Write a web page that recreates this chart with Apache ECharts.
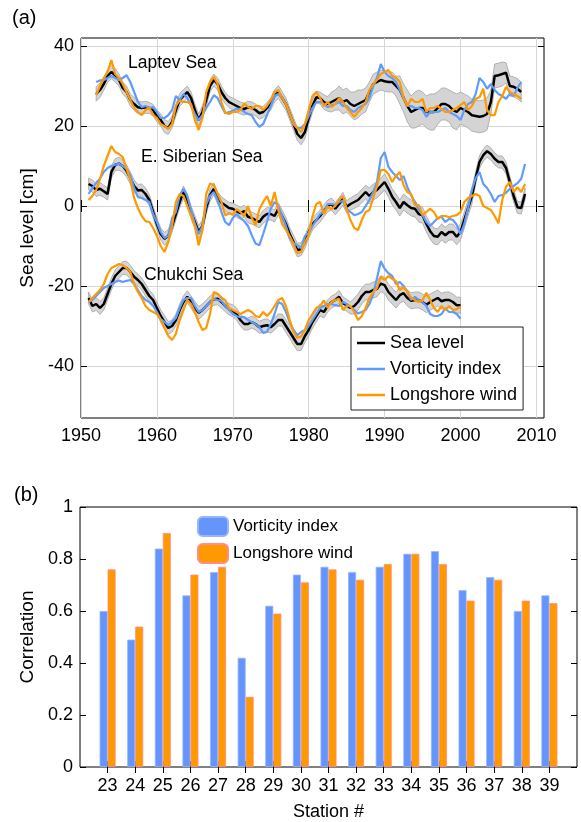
<!DOCTYPE html>
<html>
<head>
<meta charset="utf-8">
<title>Arctic sea level</title>
<script src="https://cdn.jsdelivr.net/npm/echarts@6/dist/echarts.min.js"></script>
<style>
  html, body { margin: 0; padding: 0; background: #fff; }
  #chart { width: 581px; height: 822px; }
</style>
</head>
<body>
<div id="chart"></div>
<script>
// half-year samples
var laptevStart = 1952.0
var laptevSea = [
  28, 29, 30.5, 32.5, 33.5, 32.7, 31.5, 29.5, 28.5, 26.5,      // 1952-1956
  25.5, 24.7, 24.5, 24.7, 24.5, 24, 22.5, 21.5, 20, 19.5,      // 1957-1961
  21, 24, 26.5, 27.5, 28.5, 27, 24, 21.5, 23.5, 26.5,          // 1962-1966
  30, 31.5, 30.5, 28.5, 27, 26, 25.5, 25, 24.5, 24.2,          // 1967-1971
  24.7, 24.5, 24, 23.2, 23.5, 24.5, 25.5, 27.5, 28.5, 27,      // 1972-1976
  25.5, 23, 20.5, 18, 17, 18.5, 22, 25, 27.2, 27,              // 1977-1981
  26, 25.5, 26, 26.5, 27, 26, 26.5, 25.5, 25, 25.5,            // 1982-1986
  26, 26.5, 28.5, 30.5, 31, 31.5, 31.2, 31, 31, 30,            // 1987-1991
  29, 27, 25, 23.5, 24, 24.5, 24.5, 23.5, 23.5, 23.5,          // 1992-1996
  24.5, 25.5, 25.5, 25, 24, 23.5, 24.5, 24, 23.5, 22.7,        // 1997-2001
  22.5, 22.3, 22.5, 23, 26, 32.5, 32.7, 33, 33.3, 30,          // 2002-2006
  29.8, 29.3, 28.5                                             // 2007-2008
]
var laptevVort = [
  31, 31.4, 31.5, 32, 32.5, 32, 31.5, 32, 32.7, 31,
  28.5, 26, 24.7, 25, 24.5, 24.7, 23.5, 22, 22, 22.7,
  24, 27.5, 26.5, 28, 27, 25, 23, 21.5, 22.7, 24.5,
  26, 27.7, 27, 25, 23.2, 23.5, 23.8, 24.3, 24.3, 23.5,
  23, 22.7, 21, 19.8, 20.5, 22.7, 25, 27.5, 28, 27,
  25.5, 23, 20.5, 19.5, 19.5, 20.5, 22.5, 24.5, 26, 26,
  25.5, 24.7, 25.2, 25.5, 26, 25, 25, 24, 23.5, 24.5,
  25, 25.5, 27, 30, 32, 35.5, 33.5, 32.5, 32, 31,
  29, 27, 25, 25, 24.5, 24.5, 24, 22.3, 23.5, 23.5,
  23.5, 24, 24.5, 23.5, 23, 22.5, 21.5, 24, 25.5, 26,
  28, 32, 31, 29.3, 30.5, 29, 28, 27.5, 26.8, 28,
  27.5, 29.5, 31
]
var laptevWind = [
  27.7, 30, 32, 33.5, 36.5, 33, 32, 30.5, 28.5, 26.5,
  24.5, 23.5, 22.7, 24, 24.5, 22.7, 22, 20.5, 20, 19.3,
  20.5, 25, 26.4, 26, 26, 25.5, 21.5, 19, 22, 28.5,
  31, 32.3, 30.5, 26, 23.3, 23, 23.5, 23.5, 24, 25.6,
  24.8, 24.3, 25, 25, 24, 25, 26.5, 28.5, 29, 27,
  25.5, 23, 20.5, 19.5, 18.5, 20.5, 24, 27.5, 28.5, 27,
  25, 26, 24.7, 25.5, 27, 26, 24.5, 23.5, 22.3, 23.5,
  24.5, 26, 29, 30.5, 31.5, 33, 33.5, 34, 32.5, 32,
  31, 27, 25, 26.8, 26, 26, 26.8, 23.5, 24.5, 24.5,
  25, 24.3, 23.5, 23.5, 24, 24.5, 25.2, 26, 24, 25,
  26.8, 27.2, 29.3, 24, 22.7, 22.7, 26, 27.5, 29.8, 28.5,
  28, 27.5, 26.8
]
// half-width of the grey band, one value per year from 1952
var laptevErr = [
  1.8, 1.6, 1.7, 1.5, 1.5, 1.6, 1.5, 1.4, 1.5, 1.6,
  1.5, 1.6, 1.5, 1.5, 1.6, 1.5, 1.5, 1.4, 1.5, 1.5,
  1.5, 1.5, 1.4, 1.5, 1.6, 1.5, 1.6, 1.7, 1.6, 1.5,
  1.8, 2.5, 3, 3, 3.5, 3, 2.5, 2.5, 2.5, 2.5,
  3.5, 4, 4.5, 4, 4.5, 4, 4, 4.5, 4, 4,
  4, 4, 3, 3, 2.5, 2.5, 2.5
]

var essStart = 1951.0
var essSea = [
  5.5, 5, 4, 4.3, 3.7, 3, 8.5, 10.3, 10.6, 10,                 // 1951-1955
  8.8, 7, 5, 3.9, 4, 3, 1.5, -1.5, -4.5, -7,                   // 1956-1960
  -8.2, -7.5, -5, -2, 1, 3.5, 1.5, -1.5, -4, -6.5,             // 1961-1965
  -5, -0.5, 2.7, 4.3, 2, 0.8, 0.2, -0.5, -0.7, -1.3,           // 1966-1970
  -1.8, -1.3, -2.7, -3, -3.5, -4, -2.7, -2, -2, -2.5,          // 1971-1975
  -0.7, -2.5, -4.5, -7, -9, -11, -10.8, -9, -6.5, -4.5,        // 1976-1980
  -3.5, -2.5, -1.2, 0, 0.5, -0.7, 0.5, 1.8, -0.2, 0.5,         // 1981-1985
  1, 1.5, 2.5, 3.5, 2.5, 3.5, 4, 5, 6, 4.3,                    // 1986-1990
  2.3, 1, -0.5, 1, 0.2, -0.5, -0.7, -2, -2.3, -4.5,            // 1991-1995
  -6.3, -7.5, -7.7, -6.5, -7.3, -6.5, -6.5, -7.7, -6.5, -3.5,  // 1996-2000
  -0.5, 2.5, 7, 11, 12.7, 13.7, 13, 11.8, 11, 11,              // 2001-2005
  9.5, 6, 2.5, -0.3, -0.5, 3                                   // 2006-2008
]
var essVort = [
  3, 4.5, 5.8, 6.8, 8.5, 9.5, 10, 10.3, 10.6, 10,
  9.3, 7.7, 4.5, 2.2, 2, 1.5, 1, -2, -4, -6.5,
  -8, -7.5, -3, -1.5, 2.7, 4.3, 2.5, -1, -4.5, -7,
  -5, 0.5, 2.5, 3.5, 1.5, -1.5, -4, -4.8, -3, -2,
  -3, -3.8, -5, -7.3, -9.4, -9.8, -7, -4, -0.7, 1,
  0, -2.5, -5, -8, -9.3, -9.8, -10.5, -7.5, -6.7, -5,
  -3.5, -2, -1.5, 0.5, 0.5, 0.3, 1, 1.3, -0.7, -1.5,
  -2.3, -2, -1.5, 0, 1.5, 3.5, 6, 12, 13.5, 9.8,
  8.5, 7.5, 6.5, 7.5, 4.7, 2.7, 1, -1, -2.3, -4,
  -5, -4, -3, -2.7, -4, -3.2, -3.5, -4.7, -7, -4.5,
  -0.5, 4, 7, 8.5, 5.5, 4.5, 3, 1, 2.5, 2.7,
  3.3, 4.3, 5, 5.7, 6.8, 10.5
]
var essWind = [
  1.5, 2.5, 4, 6.8, 10, 12.5, 15, 13.5, 13, 12.2,
  9.3, 6.5, 2, -0.5, -2.5, -3.8, -4, -5.5, -7.5, -10,
  -11.5, -9, -5, 1, 3, 2.5, 0, -2.5, -5, -9.8,
  -6, 3, 5.6, 5.2, 3, 1, -2.3, -1.8, -2.2, -0.8,
  -1.5, -2.5, 0, -3, -4.8, -0.8, 1, 2.5, 0, 3.5,
  -1, -4.5, -6, -7.5, -9.5, -11.8, -11.5, -9, -7.3, -2.5,
  0.5, 1, -2, -0.2, -0.8, 0, 1.5, 2.5, -0.7, -3.5,
  -5.5, -6, -3.5, -1.5, -1, 2, 5, 9, 9, 8,
  6, 7.5, 8.5, 5.2, 3.5, 3, 0.2, 0.2, -2.3, -1.5,
  -0.7, -1.5, -3.2, -2.5, -2.5, -2.8, -2.5, -2.3, -1.5, 1,
  2, 2.5, 3, 2.5, 0, -0.5, -1, -2.5, -4.3, 1.5,
  4.8, 6, 3.5, 4.7, 3.5, 5.5
]
var essErr = [
  1.5, 1.6, 1.5, 1.5, 1.6, 1.5, 1.5, 1.5, 1.4, 1.5,
  1.6, 1.5, 1.5, 1.5, 1.6, 1.5, 1.5, 1.5, 1.4, 1.5,
  1.5, 1.5, 1.5, 1.6, 1.5, 1.5, 1.6, 1.7, 1.6, 1.5,
  1.5, 1.5, 1.5, 1.6, 1.5, 1.6, 1.7, 2, 2, 2,
  2, 2, 2, 2, 2, 2, 2, 2, 2, 2,
  2, 1.6, 1.5, 1.5, 1.5, 1.5, 1.5, 1.5
]

var chukStart = 1951.0
var chukSea = [
  -23, -25, -24.5, -25.5, -24.5, -22, -19.5, -17.5, -16.5, -15.5,   // 1951-1955
  -15.5, -16.5, -17.7, -18.5, -19.5, -21, -22.5, -23.5, -25.5, -27.5, // 1956-1960
  -29, -30.5, -30, -28.5, -26, -24, -22.7, -24, -25.5, -26.7,       // 1961-1965
  -26, -25, -24, -23.3, -23.2, -24, -25, -25.8, -26.2, -27,         // 1966-1970
  -28.5, -29.5, -29.5, -29, -29.5, -30.3, -30, -29.8, -30.3, -29.5, // 1971-1975
  -28.5, -28.5, -30, -31.5, -33, -34.5, -34.5, -32.5, -31, -29,     // 1976-1980
  -27.5, -26, -26.5, -25, -24, -23.5, -22.7, -24.3, -24.8, -25.5,   // 1981-1985
  -25, -24, -22.5, -21.5, -21.5, -21, -20.7, -19.4, -19.8, -21.5,   // 1986-1990
  -22.5, -23.5, -22.3, -21.8, -23, -23.7, -23.5, -23.5, -24, -24.7, // 1991-1995
  -24, -23.5, -23, -23.8, -23.5, -23.5, -24, -24.8, -24.8           // 1996-2000
]
var chukVort = [
  -24, -23.5, -22.5, -21.5, -20.5, -20, -19.5, -19, -18.6, -19,
  -18.7, -18.5, -19.5, -21, -22.5, -23.5, -24, -25, -26.5, -28.3,
  -29, -29.8, -29, -28, -25.5, -23.5, -23, -23, -25, -26.5,
  -26, -25, -24, -23.2, -23.5, -23.7, -25, -26, -27, -27.5,
  -27.8, -27.8, -28.5, -29, -29.5, -30.3, -31.7, -31.5, -29.5, -27,
  -24, -24.5, -26.5, -29, -31, -32.3, -31.5, -31, -30, -28.5,
  -27, -25.5, -25, -24.5, -24.5, -24.8, -25, -24, -24.5, -25.2,
  -26, -26.9, -26.5, -26, -24.5, -22, -18, -13.8, -15.7, -16.8,
  -17.5, -19.5, -19, -20, -21.5, -23.5, -22.7, -23.5, -24, -25,
  -27, -27.5, -27.5, -27, -25.6, -26.5, -26.5, -27, -28.2
]
var chukWind = [
  -24, -23, -22, -21, -19.5, -17, -15.5, -15, -14.5, -14.8,
  -15.5, -16.5, -19.5, -21.5, -23, -25, -26, -26.5, -27, -28.5,
  -30.5, -32.5, -33.5, -32, -28.5, -26, -23.5, -24.5, -26.5, -29,
  -31, -30.5, -27, -21.5, -22, -23, -23.5, -25.5, -26, -26.5,
  -27, -26.5, -26, -26.5, -27.5, -27.8, -26.5, -27.5, -26.5, -25,
  -23.5, -23, -25, -28.5, -31.5, -33, -32.5, -31, -28.5, -27,
  -25.5, -25, -23.6, -25.5, -24, -23.5, -23.2, -26, -25, -25,
  -26.5, -28.5, -27.5, -25.5, -23, -21.5, -20.5, -17.7, -18.5, -17.5,
  -18.2, -18.8, -21, -20.3, -21.5, -23, -23.5, -24, -23.5, -21.7,
  -23.5, -25.5, -26.5, -25, -26, -25, -26, -25.8, -25.2
]
var chukErr = [
  1.5, 1.6, 1.5, 1.5, 1.6, 1.7, 1.5, 1.5, 1.4, 1.5,
  1.6, 1.5, 1.5, 1.5, 1.6, 1.5, 1.5, 1.5, 1.4, 1.5,
  1.5, 1.5, 1.5, 1.6, 1.5, 1.5, 1.6, 1.7, 1.6, 1.5,
  1.5, 1.5, 1.5, 1.6, 1.5, 2, 2, 2, 2, 2,
  2, 2, 2, 2, 2, 2, 2, 2, 2, 2
]

// panel (b)
var stations = [23, 24, 25, 26, 27, 28, 29, 30, 31, 32, 33, 34, 35, 36, 37, 38, 39]
var corrVort = [0.60, 0.49, 0.84, 0.66, 0.75, 0.42, 0.62, 0.74, 0.77, 0.75, 0.77, 0.82, 0.83, 0.68, 0.73, 0.60, 0.66]
var corrWind = [0.76, 0.54, 0.90, 0.74, 0.77, 0.27, 0.59, 0.71, 0.76, 0.72, 0.78, 0.82, 0.78, 0.64, 0.72, 0.64, 0.63]

var yearTicks = [1950, 1960, 1970, 1980, 1990, 2000, 2010]
var levelTicks = [-40, -20, 0, 20, 40]

var FONT = "'Liberation Sans', Arial, Helvetica, sans-serif"
var BLUE = '#5f9bff'
var ORANGE = '#ff9900'

function halfYears(start, n) {
  var t = []
  for (var i = 0; i < n; i++) t.push(start + i * 0.5)
  return t
}

function pairs(t, v) {
  return v.map(function (y, i) { return [t[i], y] })
}

function lineSeries(name, t, v, color, width) {
  return {
    name: name,
    type: 'line',
    xAxisIndex: 0,
    yAxisIndex: 0,
    data: pairs(t, v),
    symbol: 'none',
    showSymbol: false,
    clip: true,
    lineStyle: { color: color, width: width },
    itemStyle: { color: color },
    animation: false
  }
}

function bandSeries(t, mid, err, start) {
  return {
    type: 'custom',
    xAxisIndex: 0,
    yAxisIndex: 0,
    silent: true,
    clip: true,
    data: [[t[0], mid[0]]],
    renderItem: function (params, api) {
      var upper = []
      var lower = []
      for (var i = 0; i < t.length; i++) {
        var e = err[Math.floor(t[i] - start + 1e-6)]
        upper.push(api.coord([t[i], mid[i] + e]))
        lower.unshift(api.coord([t[i], mid[i] - e]))
      }
      return {
        type: 'polygon',
        shape: { points: upper.concat(lower) },
        style: { fill: '#d4d4d4', stroke: '#a3a3a3', lineWidth: 0.8 }
      }
    },
    animation: false
  }
}

var tL = halfYears(laptevStart, laptevSea.length)
var tE = halfYears(essStart, essSea.length)
var tC = halfYears(chukStart, chukSea.length)

var tick = { show: true, inside: true, length: 6, lineStyle: { color: '#000', width: 1 } }
var label = { color: '#000', fontFamily: FONT, fontSize: 18 }
var plain = function (v) { return String(v) }

var chart = echarts.init(document.getElementById('chart'), null, { renderer: 'canvas' })

chart.setOption({
  backgroundColor: '#fff',
  animation: false,
  textStyle: { fontFamily: FONT },
  grid: [
    { left: 81, top: 38, width: 463, height: 380, show: true, borderColor: '#000', borderWidth: 1, backgroundColor: 'transparent' },
    { left: 80, top: 507, width: 497, height: 264, show: true, borderColor: '#000', borderWidth: 1, backgroundColor: 'transparent' }
  ],
  xAxis: [
    {
      type: 'value', gridIndex: 0, position: 'bottom', min: 1950, max: 2011,
      axisLine: { show: false },
      axisTick: Object.assign({ customValues: yearTicks }, tick),
      axisLabel: Object.assign({ customValues: yearTicks, margin: 9, formatter: plain }, label),
      splitLine: { show: true, lineStyle: { color: '#d6d6d6', width: 1 } }
    },
    {
      type: 'value', gridIndex: 0, position: 'top', min: 1950, max: 2011,
      axisLine: { show: false },
      axisTick: Object.assign({ customValues: yearTicks }, tick),
      axisLabel: { show: false },
      splitLine: { show: false }
    },
    {
      type: 'value', gridIndex: 1, position: 'bottom', min: 22, max: 40,
      name: 'Station #', nameLocation: 'middle', nameGap: 36,
      nameTextStyle: { color: '#000', fontFamily: FONT, fontSize: 18 },
      axisLine: { show: false },
      axisTick: Object.assign({ customValues: stations }, tick),
      axisLabel: Object.assign({ customValues: stations, margin: 10, formatter: plain }, label),
      splitLine: { show: false }
    },
    {
      type: 'value', gridIndex: 1, position: 'top', min: 22, max: 40,
      axisLine: { show: false },
      axisTick: Object.assign({ customValues: stations }, tick),
      axisLabel: { show: false },
      splitLine: { show: false }
    }
  ],
  yAxis: [
    {
      type: 'value', gridIndex: 0, position: 'left', min: -53, max: 42,
      name: 'Sea level [cm]', nameLocation: 'middle', nameGap: 28,
      nameTextStyle: { color: '#000', fontFamily: FONT, fontSize: 19 },
      axisLine: { show: false },
      axisTick: Object.assign({ customValues: levelTicks }, tick),
      axisLabel: Object.assign({ customValues: levelTicks, margin: 7 }, label),
      splitLine: { show: true, lineStyle: { color: '#d6d6d6', width: 1 } }
    },
    {
      type: 'value', gridIndex: 0, position: 'right', min: -53, max: 42,
      axisLine: { show: false },
      axisTick: Object.assign({ customValues: levelTicks }, tick),
      axisLabel: { show: false },
      splitLine: { show: false }
    },
    {
      type: 'value', gridIndex: 1, position: 'left', min: 0, max: 1, interval: 0.2,
      name: 'Correlation', nameLocation: 'middle', nameGap: 31,
      nameTextStyle: { color: '#000', fontFamily: FONT, fontSize: 19 },
      axisLine: { show: false },
      axisTick: tick,
      axisLabel: Object.assign({ margin: 7 }, label),
      splitLine: { show: false }
    },
    {
      type: 'value', gridIndex: 1, position: 'right', min: 0, max: 1, interval: 0.2,
      axisLine: { show: false },
      axisTick: tick,
      axisLabel: { show: false },
      splitLine: { show: false }
    }
  ],
  legend: [
    {
      data: ['Sea level', 'Vorticity index', 'Longshore wind'],
      orient: 'vertical',
      left: 351, top: 327,
      padding: [7, 6, 6, 6],
      icon: 'rect',
      itemWidth: 28, itemHeight: 2.5, itemGap: 8,
      borderColor: '#222', borderWidth: 1, backgroundColor: '#fff',
      textStyle: { color: '#000', fontFamily: FONT, fontSize: 18, lineHeight: 18 },
      selectedMode: false
    },
    {
      data: ['Vorticity index (b)', 'Longshore wind (b)'],
      formatter: function (name) { return name.replace(' (b)', '') },
      orient: 'vertical',
      left: 197, top: 516,
      padding: 0,
      itemWidth: 30, itemHeight: 19, itemGap: 6,
      textStyle: { color: '#000', fontFamily: FONT, fontSize: 17 },
      selectedMode: false
    }
  ],
  graphic: [
    { type: 'text', left: 12, top: 8, style: { text: '(a)', fontFamily: FONT, fontSize: 20, fill: '#000' } },
    { type: 'text', left: 14, top: 485, style: { text: '(b)', fontFamily: FONT, fontSize: 20, fill: '#000' } },
    { type: 'text', left: 128, top: 54, z: 10, style: { text: 'Laptev Sea', fontFamily: FONT, fontSize: 17.5, fill: '#000' } },
    { type: 'text', left: 141, top: 148, z: 10, style: { text: 'E. Siberian Sea', fontFamily: FONT, fontSize: 17.5, fill: '#000' } },
    { type: 'text', left: 144, top: 266, z: 10, style: { text: 'Chukchi Sea', fontFamily: FONT, fontSize: 17.5, fill: '#000' } }
  ],
  series: [
    bandSeries(tL, laptevSea, laptevErr, laptevStart),
    bandSeries(tE, essSea, essErr, essStart),
    bandSeries(tC, chukSea, chukErr, chukStart),
    lineSeries('Sea level', tL, laptevSea, '#000', 2.5),
    lineSeries('Sea level', tE, essSea, '#000', 2.5),
    lineSeries('Sea level', tC, chukSea, '#000', 2.5),
    lineSeries('Vorticity index', tL, laptevVort, BLUE, 2.2),
    lineSeries('Vorticity index', tE, essVort, BLUE, 2.2),
    lineSeries('Vorticity index', tC, chukVort, BLUE, 2.2),
    lineSeries('Longshore wind', tL, laptevWind, ORANGE, 2.2),
    lineSeries('Longshore wind', tE, essWind, ORANGE, 2.2),
    lineSeries('Longshore wind', tC, chukWind, ORANGE, 2.2),
    {
      name: 'Vorticity index (b)',
      type: 'bar',
      xAxisIndex: 2,
      yAxisIndex: 2,
      data: pairs(stations, corrVort),
      barWidth: 8,
      barGap: '0%',
      itemStyle: { color: '#6495fa', borderColor: '#98b4ff', borderWidth: 0.8 }
    },
    {
      name: 'Longshore wind (b)',
      type: 'bar',
      xAxisIndex: 2,
      yAxisIndex: 2,
      data: pairs(stations, corrWind),
      barWidth: 8,
      barGap: '0%',
      itemStyle: { color: '#ff9900', borderColor: '#ff8c8c', borderWidth: 0.8 }
    }
  ]
})
</script>
</body>
</html>
